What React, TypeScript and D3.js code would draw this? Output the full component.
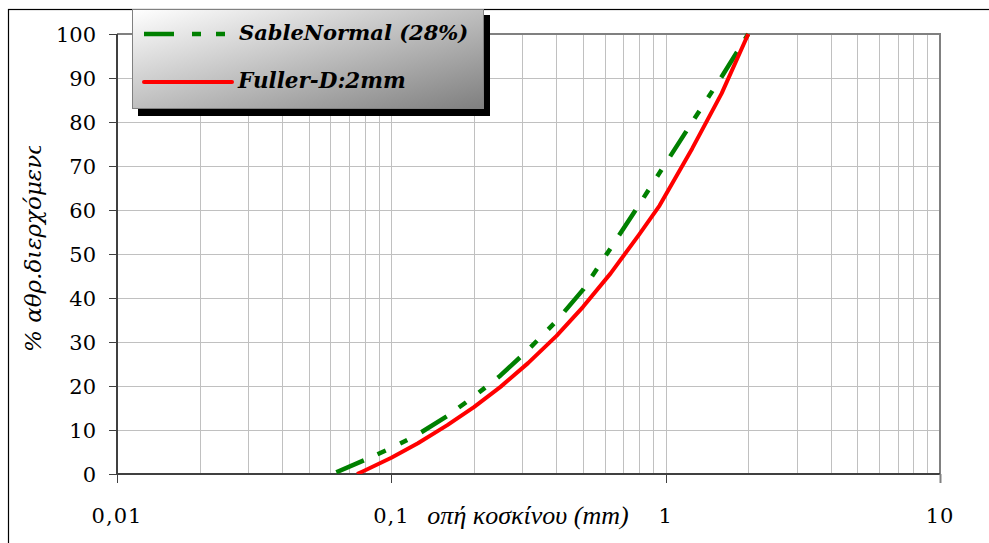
import React from "react";
import * as d3 from "d3";

// Sieve openings (mm) and cumulative passing (%) for each curve
const sableSizes = [0.063, 0.08, 0.1, 0.125, 0.16, 0.2, 0.25, 0.315, 0.4, 0.5, 0.63, 0.8, 1, 1.25, 1.6, 2];
const sablePassing = [0.4, 3.2, 5.9, 9.0, 13.2, 17.6, 22.4, 28.2, 34.8, 41.9, 51.3, 61.2, 70.6, 80.0, 90.3, 100];

const fullerSizes = [0.075, 0.08, 0.1, 0.125, 0.16, 0.2, 0.25, 0.315, 0.4, 0.5, 0.63, 0.8, 0.95, 1.25, 1.6, 2];
const fullerPassing = [0, 0.8, 3.7, 7.0, 11.1, 15.2, 19.8, 25.2, 31.4, 38.0, 45.6, 54.4, 61.0, 74.0, 86.5, 100];

const xTickValues = [0.01, 0.1, 1, 10];
const xTickLabels = ["0,01", "0,1", "1", "10"];
const yTickValues = [0, 10, 20, 30, 40, 50, 60, 70, 80, 90, 100];

const seriesNames = ["SableNormal (28%)", "Fuller-D:2mm"];
const xTitle = "οπή κοσκίνου (mm)";
const yTitle = "% αθρ.διερχόμενου";

const W = 989;
const H = 543;
const plot = { left: 117, right: 940, top: 34, bottom: 474 };

export default function App() {
  const x = d3.scaleLog().domain([0.01, 10]).range([plot.left, plot.right]);
  const y = d3.scaleLinear().domain([0, 100]).range([plot.bottom, plot.top]);

  // minor grid: 1..9 within each decade
  const minor: number[] = [];
  for (let e = -2; e < 1; e++) {
    for (let k = 1; k <= 9; k++) minor.push(k * Math.pow(10, e));
  }

  const line = d3
    .line<[number, number]>()
    .x((d) => x(d[0]))
    .y((d) => y(d[1]));

  const sableData = sableSizes.map((s, i) => [s, sablePassing[i]] as [number, number]);
  const fullerData = fullerSizes.map((s, i) => [s, fullerPassing[i]] as [number, number]);

  const serif = "'DejaVu Serif', serif";
  const px = (v: number) => Math.round(v) + 0.5;

  return (
    <svg
      width={W}
      height={H}
      viewBox={`0 0 ${W} ${H}`}
      style={{ position: "absolute", left: 0, top: 0, background: "#fff" }}
    >
      <defs>
        <linearGradient id="legendFill" x1="0" y1="0" x2="1" y2="1">
          <stop offset="0%" stopColor="#ffffff" />
          <stop offset="100%" stopColor="#7f7f7f" />
        </linearGradient>
        <clipPath id="plotClip">
          <rect x={plot.left} y={plot.top - 3} width={plot.right - plot.left} height={plot.bottom - plot.top + 3} />
        </clipPath>
        <clipPath id="yTitleClip">
          <rect x={0} y={146} width={80} height={300} />
        </clipPath>
      </defs>

      {/* outer frame */}
      <rect x={8.5} y={9.5} width={W + 10} height={H + 10} fill="none" stroke="#000" strokeWidth={1.2} />

      {/* grid */}
      <g stroke="#c0c0c0" strokeWidth={1}>
        {minor.map((v, i) => (
          <line key={"v" + i} x1={px(x(v))} x2={px(x(v))} y1={plot.top} y2={plot.bottom} />
        ))}
        {yTickValues.slice(1, -1).map((v) => (
          <line key={"h" + v} x1={plot.left} x2={plot.right} y1={px(y(v))} y2={px(y(v))} />
        ))}
      </g>

      {/* plot border (top and right) */}
      <line x1={plot.left} x2={plot.right + 1} y1={plot.top} y2={plot.top} stroke="#808080" strokeWidth={2} />
      <line x1={plot.right} x2={plot.right} y1={plot.top} y2={plot.bottom} stroke="#808080" strokeWidth={2} />

      {/* axes */}
      <line x1={plot.left} x2={plot.right} y1={plot.bottom} y2={plot.bottom} stroke="#404040" strokeWidth={2} />
      <line x1={plot.left} x2={plot.left} y1={plot.top} y2={plot.bottom} stroke="#404040" strokeWidth={2} />

      {/* y ticks and labels */}
      {yTickValues.map((v) => (
        <g key={"yt" + v}>
          <line x1={plot.left - 8} x2={plot.left} y1={px(y(v))} y2={px(y(v))} stroke="#404040" strokeWidth={1} />
          <text
            x={96}
            y={y(v)}
            dy="0.36em"
            textAnchor="end"
            fontFamily={serif}
            fontSize={21}
            fill="#000"
          >
            {v}
          </text>
        </g>
      ))}

      {/* x ticks and labels */}
      {xTickValues.map((v, i) => (
        <g key={"xt" + v}>
          <line
            x1={px(x(v))}
            x2={px(x(v))}
            y1={plot.bottom}
            y2={plot.bottom + 9}
            stroke={i === xTickValues.length - 1 ? "#808080" : "#404040"}
            strokeWidth={i === xTickValues.length - 1 ? 2 : 1}
          />
          <text
            x={x(v)}
            y={523}
            textAnchor="middle"
            fontFamily={serif}
            fontSize={21}
            letterSpacing={1}
            fill="#000"
          >
            {xTickLabels[i]}
          </text>
        </g>
      ))}

      {/* axis titles */}
      <text
        x={528}
        y={524}
        textAnchor="middle"
        fontFamily="'Liberation Serif', serif"
        fontStyle="italic"
        fontSize={26}
        fill="#000"
      >
        {xTitle}
      </text>
      <g clipPath="url(#yTitleClip)">
        <text
          transform="translate(41,352) rotate(-90)"
          textAnchor="start"
          fontFamily={serif}
          fontStyle="italic"
          fontSize={23}
          fill="#000"
        >
          {yTitle}
        </text>
      </g>

      {/* series */}
      <g clipPath="url(#plotClip)" fill="none">
        <path
          d={line(sableData) || ""}
          stroke="#008000"
          strokeWidth={4.5}
          strokeDasharray="30,15,9,16,8,16"
          strokeLinejoin="round"
        />
        <path d={line(fullerData) || ""} stroke="#ff0000" strokeWidth={4} strokeLinejoin="round" />
      </g>

      {/* legend */}
      <rect x={138} y={15} width={352} height={101} fill="#000" />
      <rect x={132.5} y={9.5} width={351} height={99} fill="url(#legendFill)" stroke="#808080" strokeWidth={1} />
      <line x1={144} x2={226} y1={34} y2={34} stroke="#008000" strokeWidth={4.5} strokeDasharray="30,18,9,15,9,20" />
      <line x1={144} x2={232} y1={82} y2={82} stroke="#ff0000" strokeWidth={4} strokeLinecap="round" />
      <text x={239} y={40} fontFamily={serif} fontStyle="italic" fontWeight="bold" fontSize={21} fill="#000">
        {seriesNames[0]}
      </text>
      <text x={238} y={88} fontFamily={serif} fontStyle="italic" fontWeight="bold" fontSize={21.5} fill="#000">
        {seriesNames[1]}
      </text>
    </svg>
  );
}
